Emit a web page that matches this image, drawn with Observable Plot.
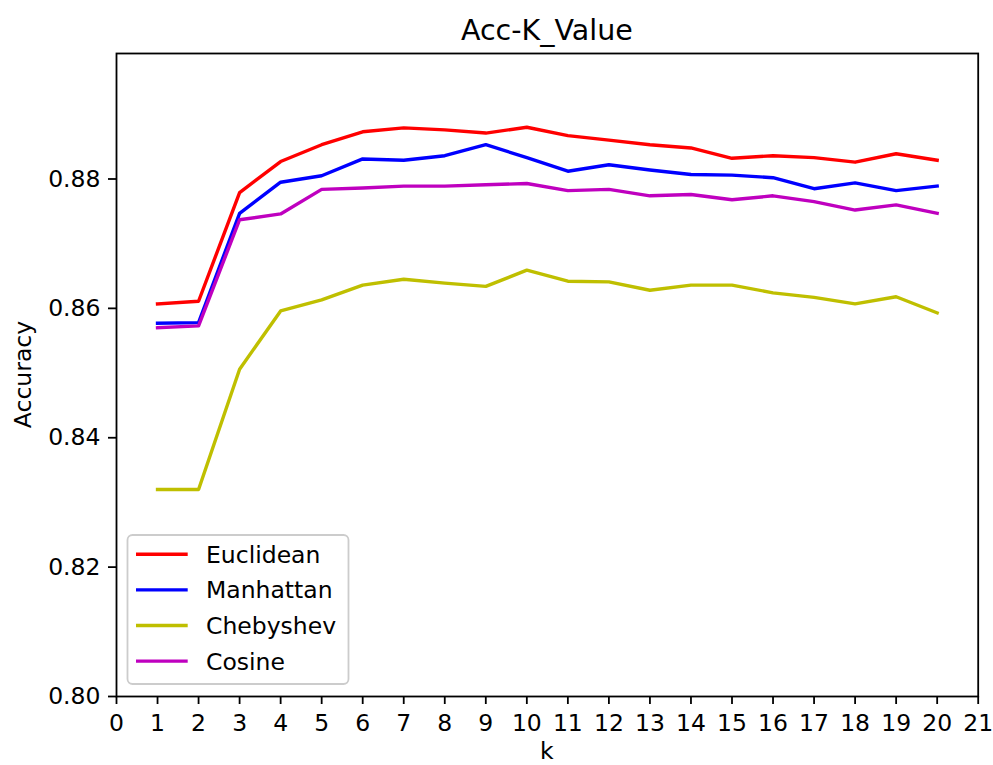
<!DOCTYPE html>
<html>
<head>
<meta charset="utf-8">
<script src="https://cdn.jsdelivr.net/npm/d3@7"></script>
<script src="https://cdn.jsdelivr.net/npm/@observablehq/plot@0.6"></script>
<style>
  html, body { margin: 0; padding: 0; background: #fff; }
  svg { display: block; }
</style>
</head>
<body>
<div id="chart"></div>
<script>
const title = "Acc-K_Value";
const xLabel = "k";
const yLabel = "Accuracy";
const kValues = [1,2,3,4,5,6,7,8,9,10,11,12,13,14,15,16,17,18,19,20];
const seriesNames = ["Euclidean", "Manhattan", "Chebyshev", "Cosine"];
const seriesColors = ["#ff0000", "#0000ff", "#bfbf00", "#bf00bf"];
const euclidean = [0.8607,0.8611,0.8779,0.8827,0.8853,0.8873,0.8879,0.8876,0.8871,0.8880,0.8867,0.8860,0.8853,0.8848,0.8832,0.8836,0.8833,0.8826,0.8839,0.8829];
const manhattan = [0.8577,0.8578,0.8747,0.8795,0.8805,0.8831,0.8829,0.8836,0.8853,0.8833,0.8812,0.8822,0.8814,0.8807,0.8806,0.8802,0.8785,0.8794,0.8782,0.8789];
const chebyshev = [0.8320,0.8320,0.8506,0.8596,0.8613,0.8636,0.8645,0.8639,0.8634,0.8659,0.8642,0.8641,0.8628,0.8636,0.8636,0.8624,0.8617,0.8607,0.8618,0.8593];
const cosine = [0.8570,0.8573,0.8737,0.8746,0.8784,0.8786,0.8789,0.8789,0.8791,0.8793,0.8782,0.8784,0.8774,0.8776,0.8768,0.8774,0.8765,0.8752,0.8760,0.8747];
const xTicks = [0,1,2,3,4,5,6,7,8,9,10,11,12,13,14,15,16,17,18,19,20,21];
const yTicks = [0.80,0.82,0.84,0.86,0.88];

const seriesValues = [euclidean, manhattan, chebyshev, cosine];
const data = seriesNames.flatMap((name, i) =>
  kValues.map((k, j) => ({series: name, k, acc: seriesValues[i][j]})));

const W = 993, H = 765;
const mL = 116, mR = 15.3, mT = 53, mB = 69;
const font = "'DejaVu Sans', sans-serif";
const fs = 23.5;

const plot = Plot.plot({
  width: W,
  height: H,
  marginLeft: mL,
  marginRight: mR,
  marginTop: mT,
  marginBottom: mB,
  style: {fontFamily: font, fontSize: fs + "px", color: "#000", background: "#fff"},
  x: {domain: [0, 21], ticks: xTicks, tickFormat: d => String(d), tickSize: 8, tickPadding: 10, label: null},
  y: {domain: [0.80, 0.8994], ticks: yTicks, tickFormat: d3.format(".2f"), tickSize: 8, tickPadding: 8, label: null},
  color: {domain: seriesNames, range: seriesColors},
  marks: [
    Plot.line(data, {x: "k", y: "acc", z: "series", stroke: "series", strokeWidth: 3.4, strokeLinejoin: "round", strokeLinecap: "square"}),
    Plot.frame({stroke: "#000", strokeWidth: 1.8})
  ]
});

document.getElementById("chart").appendChild(plot);

const svg = d3.select(plot);
svg.selectAll("[aria-label^='x-axis'], [aria-label^='y-axis']").attr("stroke-width", 1.8);

// Title
svg.append("text")
  .attr("x", mL + (W - mL - mR) / 2)
  .attr("y", 40)
  .attr("text-anchor", "middle")
  .attr("font-family", font)
  .attr("font-size", 28.5)
  .attr("fill", "#000")
  .text(title);

// Axis labels
svg.append("text")
  .attr("x", mL + (W - mL - mR) / 2)
  .attr("y", 759)
  .attr("text-anchor", "middle")
  .attr("font-family", font)
  .attr("font-size", fs)
  .attr("fill", "#000")
  .text(xLabel);

svg.append("text")
  .attr("transform", `translate(31,${mT + (H - mT - mB) / 2}) rotate(-90)`)
  .attr("text-anchor", "middle")
  .attr("font-family", font)
  .attr("font-size", fs)
  .attr("fill", "#000")
  .text(yLabel);

// Legend
const color = plot.scale("color");
const lg = svg.append("g").attr("class", "legend");
lg.append("rect")
  .attr("x", 127.5).attr("y", 535)
  .attr("width", 221).attr("height", 149)
  .attr("rx", 5).attr("ry", 5)
  .attr("fill", "#fff").attr("fill-opacity", 0.8)
  .attr("stroke", "#cccccc").attr("stroke-width", 1.8);
seriesNames.forEach((name, i) => {
  const y = 554.3 + i * 35.6;
  lg.append("line")
    .attr("x1", 136).attr("x2", 187.7)
    .attr("y1", y).attr("y2", y)
    .attr("stroke", color.apply(name)).attr("stroke-width", 3.4);
  lg.append("text")
    .attr("x", 206).attr("y", y).attr("dy", "0.36em")
    .attr("text-anchor", "start")
    .attr("font-family", font).attr("font-size", fs)
    .attr("fill", "#000")
    .text(name);
});
</script>
</body>
</html>
